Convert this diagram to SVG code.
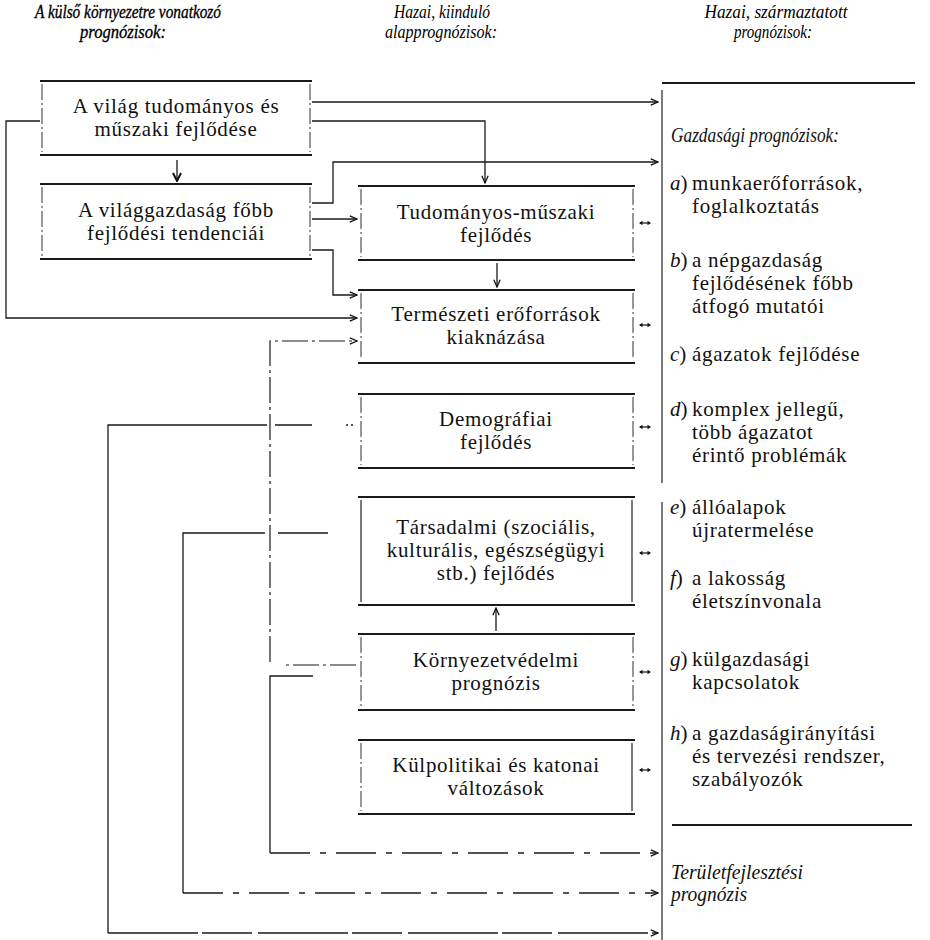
<svg xmlns="http://www.w3.org/2000/svg" xmlns:xlink="http://www.w3.org/1999/xlink" width="930" height="940" viewBox="0 0 930 940">
<style>
.bh{stroke:#1a1a1a;stroke-width:1.8;fill:none}
.bv{stroke:#333;stroke-width:1;fill:none;stroke-dasharray:16 3 2 3}
.bvs{stroke:#222;stroke-width:1.2;fill:none}
.c{stroke:#1a1a1a;stroke-width:1.3;fill:none}
.d{stroke:#1a1a1a;stroke-width:1.3;fill:none;stroke-dasharray:40 10 6 10}
.e{stroke:#1a1a1a;stroke-width:1.2;fill:none;stroke-dasharray:26 4 3 4}
.t{font-family:"Liberation Serif","DejaVu Serif",serif;font-size:21px;fill:#111;letter-spacing:0.7px}
.m{text-anchor:middle}
.lab{font-family:"Liberation Serif","DejaVu Serif",serif;font-size:21px;fill:#111}
.it{font-family:"Liberation Serif","DejaVu Serif",serif;font-size:20px;font-style:italic;fill:#111}
.h{font-family:"Liberation Serif","DejaVu Serif",serif;font-size:19px;font-style:italic;fill:#000;text-anchor:middle}
.i{font-style:italic}
</style>
<defs>
<marker id="ah" viewBox="0 0 10 10" refX="9" refY="5" markerWidth="9" markerHeight="9" markerUnits="userSpaceOnUse" orient="auto"><path d="M1,1.5 L9,5 L1,8.5" fill="none" stroke="#111" stroke-width="1.4"/></marker>
<marker id="ahb" viewBox="0 0 10 10" refX="9" refY="5" markerWidth="10" markerHeight="10" markerUnits="userSpaceOnUse" orient="auto"><path d="M1,1 L9,5 L1,9" fill="none" stroke="#111" stroke-width="2"/></marker>
<g id="dbl"><line x1="-5" y1="0" x2="5" y2="0" stroke="#111" stroke-width="1.2"/><path d="M-6,0 L-2.5,-2.2 L-2.5,2.2Z M6,0 L2.5,-2.2 L2.5,2.2Z" fill="#111"/></g>
</defs>
<rect width="930" height="940" fill="#fff"/>

<g id="headers">
<text class="h" x="128" y="18" stroke="#000" stroke-width="0.35" textLength="186" lengthAdjust="spacingAndGlyphs">A külső környezetre vonatkozó</text>
<text class="h" x="123" y="38" stroke="#000" stroke-width="0.35" textLength="86" lengthAdjust="spacingAndGlyphs">prognózisok:</text>
<text class="h" x="442" y="18" textLength="96" lengthAdjust="spacingAndGlyphs">Hazai, kiinduló</text>
<text class="h" x="441" y="38" textLength="112" lengthAdjust="spacingAndGlyphs">alapprognózisok:</text>
<text class="h" x="776" y="18" textLength="143" lengthAdjust="spacingAndGlyphs">Hazai, származtatott</text>
<text class="h" x="773" y="38" textLength="78" lengthAdjust="spacingAndGlyphs">prognózisok:</text>
</g>

<g id="n-vilag-tud">
<line class="bh" x1="40" y1="81" x2="312" y2="81"/>
<line class="bh" x1="40" y1="155" x2="312" y2="155"/>
<line class="bv" x1="42" y1="84" x2="42" y2="152"/>
<line class="bv" x1="310" y1="84" x2="310" y2="152"/>
<text class="t m" x="176" y="113">A világ tudományos és</text>
<text class="t m" x="176" y="136">műszaki fejlődése</text>
</g>

<g id="n-vilaggazd">
<line class="bh" x1="40" y1="184" x2="312" y2="184"/>
<line class="bh" x1="40" y1="259" x2="312" y2="259"/>
<line class="bv" x1="42" y1="187" x2="42" y2="256"/>
<line class="bv" x1="310" y1="187" x2="310" y2="256"/>
<text class="t m" x="176" y="217">A világgazdaság főbb</text>
<text class="t m" x="176" y="240">fejlődési tendenciái</text>
</g>

<g id="n-tudmusz">
<line class="bh" x1="358" y1="186" x2="635" y2="186"/>
<line class="bh" x1="358" y1="260" x2="635" y2="260"/>
<line class="bv" x1="361" y1="189" x2="361" y2="257"/>
<line class="bv" x1="633" y1="189" x2="633" y2="257"/>
<text class="t m" x="496" y="219">Tudományos-műszaki</text>
<text class="t m" x="496" y="242">fejlődés</text>
</g>

<g id="n-termeszeti">
<line class="bh" x1="358" y1="290" x2="635" y2="290"/>
<line class="bh" x1="358" y1="363" x2="635" y2="363"/>
<line class="bv" x1="361" y1="293" x2="361" y2="360"/>
<line class="bv" x1="633" y1="293" x2="633" y2="360"/>
<text class="t m" x="496" y="321">Természeti erőforrások</text>
<text class="t m" x="496" y="344">kiaknázása</text>
</g>

<g id="n-demografiai">
<line class="bh" x1="358" y1="394" x2="635" y2="394"/>
<line class="bh" x1="358" y1="468" x2="635" y2="468"/>
<line class="bv" x1="361" y1="397" x2="361" y2="465"/>
<line class="bv" x1="633" y1="397" x2="633" y2="465"/>
<text class="t m" x="496" y="426">Demográfiai</text>
<text class="t m" x="496" y="449">fejlődés</text>
</g>

<g id="n-tarsadalmi">
<line class="bh" x1="358" y1="497" x2="635" y2="497"/>
<line class="bh" x1="358" y1="605" x2="635" y2="605"/>
<line class="bvs" x1="361" y1="500" x2="361" y2="602"/>
<line class="bvs" x1="632" y1="500" x2="632" y2="602"/>
<text class="t m" x="496" y="534">Társadalmi (szociális,</text>
<text class="t m" x="496" y="557">kulturális, egészségügyi</text>
<text class="t m" x="496" y="580">stb.) fejlődés</text>
</g>

<g id="n-kornyezet">
<line class="bh" x1="358" y1="634" x2="635" y2="634"/>
<line class="bh" x1="358" y1="710" x2="635" y2="710"/>
<line class="bv" x1="361" y1="637" x2="361" y2="707"/>
<line class="bv" x1="633" y1="637" x2="633" y2="707"/>
<text class="t m" x="496" y="667">Környezetvédelmi</text>
<text class="t m" x="496" y="690">prognózis</text>
</g>

<g id="n-kulpol">
<line class="bh" x1="358" y1="740" x2="635" y2="740"/>
<line class="bh" x1="358" y1="814" x2="635" y2="814"/>
<line class="bv" x1="361" y1="743" x2="361" y2="811"/>
<line class="bvs" x1="632" y1="743" x2="632" y2="811"/>
<text class="t m" x="496" y="772">Külpolitikai és katonai</text>
<text class="t m" x="496" y="795">változások</text>
</g>

<g id="n-szarmaztatott">
<line class="bh" x1="662" y1="83" x2="915" y2="83"/>
<path class="bvs" d="M662,90 V483 M662,502 V940"/>
<text class="it" x="671" y="142" textLength="168" lengthAdjust="spacingAndGlyphs">Gazdasági prognózisok:</text>
<text class="lab" x="670" y="190"><tspan class="i">a</tspan>)</text>
<text class="t" x="692" y="190">munkaerőforrások,</text>
<text class="t" x="692" y="213">foglalkoztatás</text>
<text class="lab" x="670" y="267"><tspan class="i">b</tspan>)</text>
<text class="t" x="692" y="267">a népgazdaság</text>
<text class="t" x="692" y="290">fejlődésének főbb</text>
<text class="t" x="692" y="313">átfogó mutatói</text>
<text class="lab" x="670" y="361"><tspan class="i">c</tspan>)</text>
<text class="t" x="692" y="361">ágazatok fejlődése</text>
<text class="lab" x="670" y="416"><tspan class="i">d</tspan>)</text>
<text class="t" x="692" y="416">komplex jellegű,</text>
<text class="t" x="692" y="439">több ágazatot</text>
<text class="t" x="692" y="462">érintő problémák</text>
<text class="lab" x="670" y="514"><tspan class="i">e</tspan>)</text>
<text class="t" x="692" y="514">állóalapok</text>
<text class="t" x="692" y="537">újratermelése</text>
<text class="lab" x="670" y="585"><tspan class="i">f</tspan>)</text>
<text class="t" x="692" y="585">a lakosság</text>
<text class="t" x="692" y="608">életszínvonala</text>
<text class="lab" x="670" y="666"><tspan class="i">g</tspan>)</text>
<text class="t" x="692" y="666">külgazdasági</text>
<text class="t" x="692" y="689">kapcsolatok</text>
<text class="lab" x="670" y="740"><tspan class="i">h</tspan>)</text>
<text class="t" x="692" y="740">a gazdaságirányítási</text>
<text class="t" x="692" y="763">és tervezési rendszer,</text>
<text class="t" x="692" y="786">szabályozók</text>
<line class="bh" x1="672" y1="825" x2="912" y2="825"/>
<text class="it" x="671" y="879" textLength="132" lengthAdjust="spacingAndGlyphs">Területfejlesztési</text>
<text class="it" x="671" y="901" textLength="76" lengthAdjust="spacingAndGlyphs">prognózis</text>
</g>

<g id="connectors">
<path class="c" d="M312,102 H658" marker-end="url(#ah)"/>
<path class="c" d="M312,121 H485 V183" marker-end="url(#ah)"/>
<path class="c" d="M312,203 H333 V162 H658" marker-end="url(#ah)"/>
<path class="c" d="M312,219 H357" marker-end="url(#ah)"/>
<path class="c" d="M312,250 H333 V295 H357" marker-end="url(#ah)"/>
<path class="c" d="M40,121 H6 V318 H357" marker-end="url(#ah)"/>
<path class="c" d="M177,160 V181" stroke-width="2" marker-end="url(#ahb)"/>
<path class="c" d="M497,263 V287" marker-end="url(#ah)"/>
<path class="c" d="M496,631 V608" marker-end="url(#ah)"/>
<path class="e" d="M356,665 H283"/>
<path class="e" d="M270,662 V341 H357" marker-end="url(#ah)"/>
<path class="c" d="M313,676 H270 V853"/>
<path class="d" d="M270,853 H658" marker-end="url(#ah)"/>
<path class="c" d="M328,533 H278 M265,533 H183 V893"/>
<path class="d" d="M183,893 H658" marker-end="url(#ah)"/>
<path class="c" d="M353,425 H343" stroke-dasharray="2 3"/>
<path class="c" d="M312,425 H275 M267,425 H108 V933"/>
<path class="c" d="M108,933 H658" stroke-dasharray="90 4 50 6" marker-end="url(#ah)"/>
<use xlink:href="#dbl" x="645" y="223"/>
<use xlink:href="#dbl" x="645" y="325"/>
<use xlink:href="#dbl" x="645" y="427"/>
<use xlink:href="#dbl" x="645" y="553"/>
<use xlink:href="#dbl" x="645" y="672"/>
<use xlink:href="#dbl" x="645" y="770"/>
</g>
</svg>
